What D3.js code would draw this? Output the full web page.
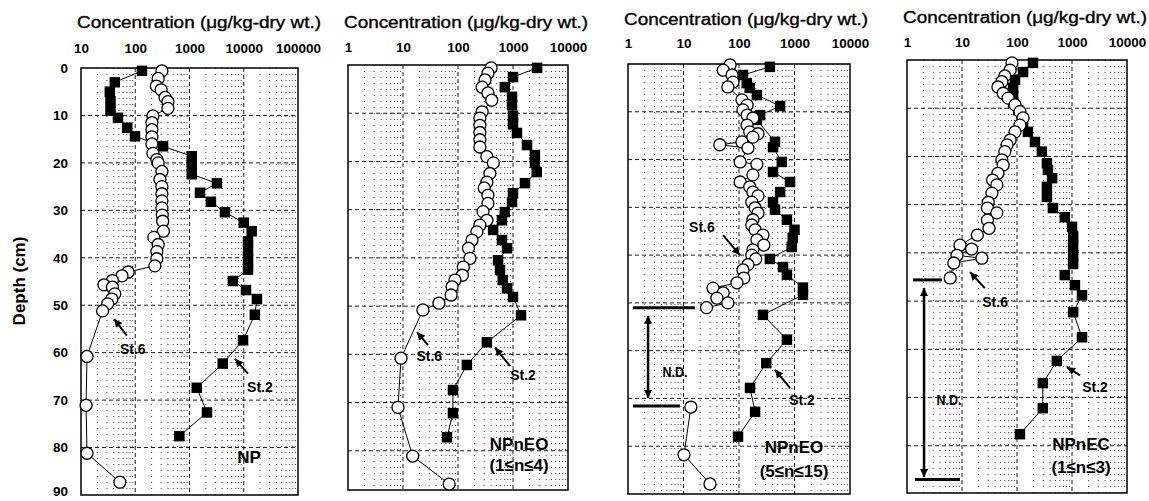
<!DOCTYPE html>
<html>
<head>
<meta charset="utf-8">
<script src="https://cdn.jsdelivr.net/npm/d3@7"></script>
<style>
  body { margin: 0; background: #fff; }
  svg text { font-family: "Liberation Sans", Arial, sans-serif; fill: #000; }
</style>
</head>
<body>
<svg id="chart" width="1149" height="501"></svg>
<script>

// [depth (cm), concentration (ug/kg-dry wt.)]

const npSt2 = [[0.6,133],[3,42],[5,34],[7,35],[9,35],[10.5,48],[12.6,71],[14.4,99],[16.5,325],[18.6,1100],[20.5,1100],[22.4,1100],
  [24.3,3200],[26.3,1560],[28.2,2480],[30.4,4500],[32.6,10000],[34.4,14000],[36.5,12000],[38.5,12000],[40.5,12000],[42.5,12000],
  [44.9,6300],[46.8,11000],[48.7,17500],[52,16000],[57.4,9700],[62.3,4100],[67.4,1360],[72.6,2100],[77.6,650]];

const npSt6 = [[0.6,310],[2.2,265],[3.8,245],[4.6,300],[6.2,355],[7.1,400],[8.5,400],[10.1,212],[11.5,203],[13,203],[14.5,203],
  [16,203],[18,212],[19.3,250],[20,265],[21.8,310],[23.5,285],[25,310],[26.5,310],[28,310],[29.5,310],[31,315],[32.3,320],
  [34.4,330],[35.7,220],[37.2,265],[38.7,250],[40.2,250],[41.7,230],[43,74],[43.8,57],[44.8,38],[45.7,26.5],[46.2,38],
  [47.6,42],[48.7,37],[49.7,31],[51.2,25],[60.8,12.9],[71.1,12.4],[81.2,12.9],[87.3,52]];

const eo14St2 = [[0.6,2740],[2.5,1000],[4.6,710],[6.6,960],[8.3,960],[10.5,1000],[12.3,1000],[14.1,1180],[16.6,1800],[18.7,2500],
  [20.3,2500],[22.2,2700],[24.5,1650],[26.6,1000],[28.4,960],[30.5,710],[32.2,630],[34.2,435],[36.3,630],[38,780],[40.5,535],
  [42.5,580],[44.6,650],[46.3,780],[48.1,1000],[51.9,1400],[57.5,335],[62.2,145],[67.4,81],[72.2,81],[77.2,63]];

const eo14St6 = [[0.6,400],[1.7,350],[3.1,310],[4.6,275],[5.8,350],[7.3,410],[9.7,275],[11,250],[12.5,250],[14,250],[15.5,250],
  [17,250],[19,335],[20.3,440],[22.5,380],[24.3,335],[25.5,300],[27,350],[28.7,350],[30.4,285],[32.2,335],[33.2,250],[34.6,220],
  [36.3,180],[38,155],[40.1,165],[41.9,125],[43.6,120],[44.6,88],[46,78],[47.7,75],[49.4,45],[50.8,23],[60.8,9.2],[71,8.1],
  [81.1,15],[86.9,69]];

const eo515St2 = [[0.6,360],[2.3,118],[4,138],[5,156],[6.5,210],[8.8,550],[10.7,240],[11.7,210],[16.3,445],[17.4,410],[20.5,590],
  [22.6,410],[24.7,830],[26.8,550],[28.9,410],[30.5,445],[32.6,730],[34.7,1000],[36.4,930],[38.3,890],[40.8,360],[42.5,620],
  [44.1,730],[46.8,1420],[48.3,1420],[52.5,270],[57.7,730],[62.6,310],[67.8,158],[72.8,195],[78,96]];

// null = not detected, line is broken there
const eo515St6 = [[0.2,69],[1.3,52],[2.3,75],[3.8,78],[4.8,63],[7.5,113],[8.6,140],[9.6,118],[10.7,140],[11.3,178],[12.8,140],
  [14.2,156],[14.6,220],[15.3,178],[16.3,113],[16.9,45],[17.6,145],[20.5,105],[21,210],[23.2,178],[24.7,105],[25.7,156],
  [26.8,178],[27.6,220],[28.9,170],[30.1,195],[31.2,220],[32.6,178],[33.7,170],[34.7,195],[35.8,270],[36.8,210],[37.9,280],
  [38.9,178],[40,170],[40.8,200],[42,145],[43.1,118],[44.8,122],[45.8,92],[46.9,34],[47.9,52],[49,40],[50,63],[51,26],
  null,[71.8,13.6],[81.8,10.2],[87.9,30]];

const ecSt2 = [[0.6,195],[2.5,129],[4.1,92],[5.8,85],[7.5,85],[8.8,85],[10.4,105],[12.8,129],[14.9,158],[17,212],[19,283],
  [21.4,350],[22.8,365],[24.5,435],[26.3,350],[28.4,350],[30.7,450],[32.6,740],[34.6,1000],[36.5,1050],[38.5,1050],[40.5,1050],
  [42.3,1050],[44.6,740],[46.7,1130],[48.8,1520],[52.3,1050],[57.5,1520],[62.4,530],[67,295],[72.2,295],[77.6,113]];

const ecSt6 = [[0.6,81],[2.1,75],[3.3,60],[4.5,53],[5.6,45],[6.9,56],[7.9,69],[9.3,92],[10.7,113],[12,129],[13.5,113],[14.9,92],
  [16.6,75],[17.6,66],[19,60],[20.7,53],[21.8,56],[23.5,45],[24.9,36],[25.9,43],[27.6,35],[29.5,30],[30.7,29],[31.7,43],
  [33.2,29],[34.9,31],[36.3,19],[38.4,9.2],[39.2,15],[40.5,8.1],[41.1,23],[42.1,7.1],[45.2,6.1]];

const panelNames = ['NP', 'NPnEO', 'NPnEO', 'NPnEC'];
const panelSubs  = ['', '(1\u2264n\u22644)', '(5\u2264n\u226415)', '(1\u2264n\u22643)'];
const xDomains   = [[10, 100000], [1, 10000], [1, 10000], [1, 10000]];
const depthTicks = [0, 10, 20, 30, 40, 50, 60, 70, 80, 90];
const titleText  = 'Concentration (\u03bcg/kg-dry wt.)';

const panels = panelNames.map((name, i) => ({
  name:   name,
  sub:    panelSubs[i],
  domain: xDomains[i],
  st2:    [npSt2, eo14St2, eo515St2, ecSt2][i],
  st6:    [npSt6, eo14St6, eo515St6, ecSt6][i]
}));

// placement of frames and notes (notes in [conc, depth])
const layout = [
  { left: 81,  right: 298,  y0: 68, y90: 495, bottom: 495, titleY: 28, tickY: 53,
    st6: { text: [90, 60.2],    from: [70, 56.4],    to: [41, 52.9] },
    st2: { text: [19900, 68.2], from: [11970, 64.4], to: [6900, 61.3] },
    name: [12500, 83.3] },
  { left: 348, right: 568,  y0: 65, y90: 499, bottom: 490, titleY: 28, tickY: 52,
    st6: { text: [30, 61.4],    from: [28.5, 58.1],  to: [18, 55.4] },
    st2: { text: [1520, 65.4],  from: [880, 62.4],   to: [471, 58.6] },
    name: [1290, 79.8], sub: 84.2 },
  { left: 628, right: 850,  y0: 64, y90: 494, bottom: 494, titleY: 25, tickY: 48,
    st6: { text: [21.5, 35.1],  from: [51.5, 35.8],  to: [104, 40] },
    st2: { text: [1365, 71.3],  from: [830, 67.8],   to: [445, 64] },
    name: [980, 81.4], sub: 86.4,
    nd: { bars: [[1.23, 16, 51], [1.23, 8.6, 71.6]], arrow: [2.3, 52.7, 69.9], text: [7, 65.5] } },
  { left: 907, right: 1127, y0: 60, y90: 494, bottom: 493, titleY: 23, tickY: 47,
    st6: { text: [40, 51.2],    from: [26, 47.3],    to: [14, 44] },
    st2: { text: [2620, 68.9],  from: [1400, 65.4],  to: [810, 63.7] },
    name: [1460, 80.9], sub: 85.7,
    nd: { bars: [[1.29, 4.3, 45.6], [1.4, 9.2, 87]], arrow: [2.04, 47.3, 86.5], text: [5.8, 71.6] } }
];

const svg = d3.select('#chart');

svg.append('defs').append('marker')
  .attr('id', 'arrow')
  .attr('viewBox', '0 0 10 10')
  .attr('refX', 10)
  .attr('refY', 5)
  .attr('markerWidth', 9)
  .attr('markerHeight', 8)
  .attr('markerUnits', 'userSpaceOnUse')
  .attr('orient', 'auto-start-reverse')
  .append('path')
  .attr('d', 'M0,0L10,5L0,10z')
  .attr('fill', '#000');

// depth label
svg.append('text')
  .attr('transform', 'translate(25,281) rotate(-90)')
  .attr('text-anchor', 'middle')
  .style('font-size', '17px')
  .style('font-weight', 'bold')
  .text('Depth (cm)');

panels.forEach((p, i) => {

  const L = layout[i];

  const x = d3.scaleLog().domain(p.domain).range([L.left, L.right]),
        y = d3.scaleLinear().domain([0, 90]).range([L.y0, L.y90]);

  const g = svg.append('g');

  // grid
  const decades = x.ticks().filter(v => Math.log10(v) % 1 === 0),
        minors  = x.ticks().filter(v => Math.log10(v) % 1 !== 0);

  g.selectAll('line.minor').data(minors).join('line')
    .attr('x1', d => x(d)).attr('x2', d => x(d))
    .attr('y1', L.y0).attr('y2', L.bottom)
    .attr('stroke', '#000')
    .attr('stroke-width', 1)
    .attr('stroke-opacity', 0.75)
    .attr('stroke-dasharray', '1,5');

  g.selectAll('line.major').data(decades.slice(1, -1)).join('line')
    .attr('x1', d => x(d)).attr('x2', d => x(d))
    .attr('y1', L.y0).attr('y2', L.bottom)
    .attr('stroke', '#000')
    .attr('stroke-width', 0.9)
    .attr('stroke-dasharray', '4,3');

  g.selectAll('line.hgrid').data(depthTicks.filter(d => d > 0 && y(d) < L.bottom - 2)).join('line')
    .attr('x1', L.left).attr('x2', L.right)
    .attr('y1', d => y(d)).attr('y2', d => y(d))
    .attr('stroke', '#000')
    .attr('stroke-width', 0.9)
    .attr('stroke-dasharray', '4,3');

  g.append('rect')
    .attr('x', L.left).attr('y', L.y0)
    .attr('width', L.right - L.left)
    .attr('height', L.bottom - L.y0)
    .attr('fill', 'none')
    .attr('stroke', '#000')
    .attr('stroke-width', 1.5);

  // axes
  const xAxis = g.append('g')
    .attr('transform', `translate(0,${L.tickY})`)
    .call(d3.axisTop(x).tickValues(decades).tickFormat(d3.format('d')).tickSize(0).tickPadding(0));
  xAxis.select('.domain').remove();
  xAxis.selectAll('text')
    .style('font-family', '"Liberation Sans", Arial, sans-serif')
    .style('font-size', '13.5px')
    .style('font-weight', 'bold');

  if (i === 0) {
    const yAxis = g.append('g')
      .attr('transform', `translate(${L.left - 13},0)`)
      .call(d3.axisLeft(y).tickValues(depthTicks).tickSize(0).tickPadding(0));
    yAxis.select('.domain').remove();
    yAxis.selectAll('text')
      .style('font-family', '"Liberation Sans", Arial, sans-serif')
      .style('font-size', '13.5px')
      .style('font-weight', 'bold');
    // last label sits on the page edge, lift it a little
    yAxis.selectAll('text').filter(d => d === 90).attr('dy', '0.05em');
  }

  g.append('text')
    .attr('x', L.left - 4)
    .attr('y', L.titleY)
    .attr('textLength', 244)
    .attr('lengthAdjust', 'spacingAndGlyphs')
    .attr('stroke', '#000')
    .attr('stroke-width', 0.35)
    .style('font-size', '16px')
    .text(titleText);

  // series
  const line = d3.line()
    .defined(d => d !== null)
    .x(d => x(d[1]))
    .y(d => y(d[0]));

  g.append('path')
    .datum(p.st2)
    .attr('d', line)
    .attr('fill', 'none')
    .attr('stroke', '#000')
    .attr('stroke-width', 1);

  g.selectAll('rect.st2').data(p.st2.filter(d => d)).join('rect')
    .attr('x', d => x(d[1]) - 5.25)
    .attr('y', d => y(d[0]) - 5.25)
    .attr('width', 10.5)
    .attr('height', 10.5)
    .attr('fill', '#000');

  g.append('path')
    .datum(p.st6)
    .attr('d', line)
    .attr('fill', 'none')
    .attr('stroke', '#000')
    .attr('stroke-width', 1);

  g.selectAll('circle.st6').data(p.st6.filter(d => d)).join('circle')
    .attr('cx', d => x(d[1]))
    .attr('cy', d => y(d[0]))
    .attr('r', 6)
    .attr('fill', '#fff')
    .attr('stroke', '#000')
    .attr('stroke-width', 1.3);

  // station labels
  [['St.6', L.st6], ['St.2', L.st2]].forEach(([label, n]) => {
    g.append('text')
      .attr('x', x(n.text[0]))
      .attr('y', y(n.text[1]))
      .attr('text-anchor', 'middle')
      .style('font-size', '14px')
      .style('font-weight', 'bold')
      .text(label);
    g.append('line')
      .attr('x1', x(n.from[0])).attr('y1', y(n.from[1]))
      .attr('x2', x(n.to[0])).attr('y2', y(n.to[1]))
      .attr('stroke', '#000')
      .attr('stroke-width', 2)
      .attr('marker-end', 'url(#arrow)');
  });

  g.append('text')
    .attr('x', x(L.name[0]))
    .attr('y', y(L.name[1]))
    .attr('text-anchor', 'middle')
    .style('font-size', '17px')
    .style('font-weight', 'bold')
    .text(p.name);

  if (p.sub) {
    g.append('text')
      .attr('x', x(L.name[0]))
      .attr('y', y(L.sub))
      .attr('text-anchor', 'middle')
      .style('font-size', '17px')
      .style('font-weight', 'bold')
      .text(p.sub);
  }

  // not detected range
  if (L.nd) {
    g.selectAll('line.ndbar').data(L.nd.bars).join('line')
      .attr('x1', d => x(d[0])).attr('x2', d => x(d[1]))
      .attr('y1', d => y(d[2])).attr('y2', d => y(d[2]))
      .attr('stroke', '#000')
      .attr('stroke-width', 3);
    g.append('line')
      .attr('x1', x(L.nd.arrow[0])).attr('x2', x(L.nd.arrow[0]))
      .attr('y1', y(L.nd.arrow[1])).attr('y2', y(L.nd.arrow[2]))
      .attr('stroke', '#000')
      .attr('stroke-width', 2.5)
      .attr('marker-start', 'url(#arrow)')
      .attr('marker-end', 'url(#arrow)');
    g.append('text')
      .attr('x', x(L.nd.text[0]))
      .attr('y', y(L.nd.text[1]))
      .attr('text-anchor', 'middle')
      .attr('textLength', 25)
      .attr('lengthAdjust', 'spacingAndGlyphs')
      .style('font-size', '14px')
      .style('font-weight', 'bold')
      .text('N.D.');
  }

});

</script>
</body>
</html>
